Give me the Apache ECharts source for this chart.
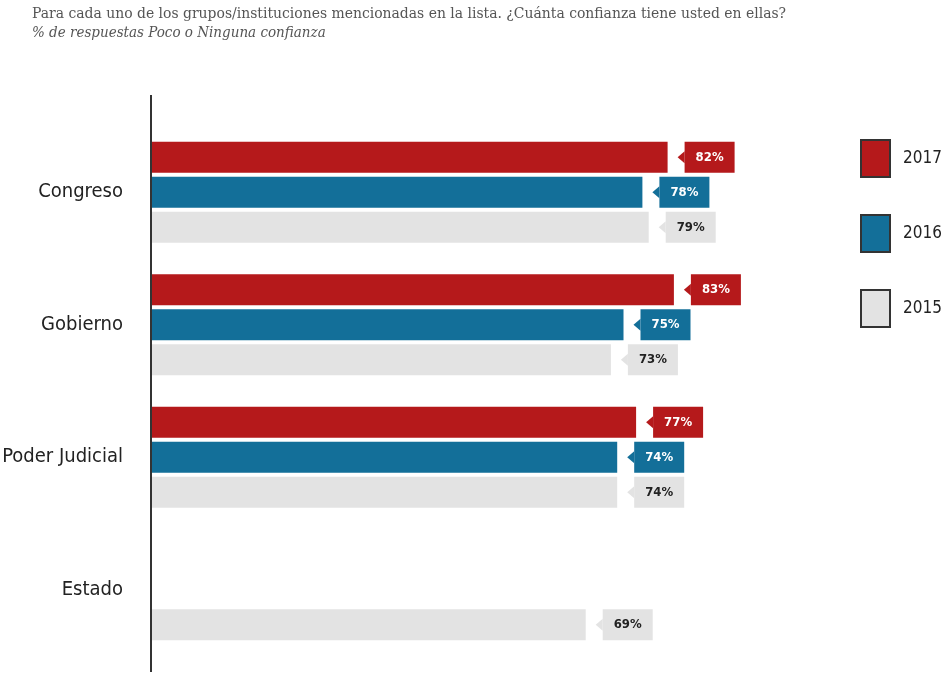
<!DOCTYPE html>
<html>
<head>
<meta charset="utf-8">
<script src="https://cdn.jsdelivr.net/npm/echarts@6/dist/echarts.min.js"></script>
<style>
html,body{margin:0;padding:0;background:#fff;}
#chart{width:942px;height:675px;}
</style>
</head>
<body>
<div id="chart"></div>
<script>
const categories = ['Congreso', 'Gobierno', 'Poder Judicial', 'Estado'];
const years = ['2017', '2016', '2015'];
const values2017 = [82, 83, 77, null];
const values2016 = [78, 75, 74, null];
const values2015 = [79, 73, 74, 69];
const titleText = 'Para cada uno de los grupos/instituciones mencionadas en la lista. ¿Cuánta confianza tiene usted en ellas?';
const subtitleText = '% de respuestas Poco o Ninguna confianza';

const colors = ['#b5191b', '#136f99', '#e3e3e3'];
const textColors = ['#ffffff', '#ffffff', '#222222'];
const seriesValues = [values2017, values2016, values2015];
const condensed = "'DejaVu Sans Condensed', 'Liberation Sans Narrow', sans-serif";
const serifFont = "'DejaVu Serif Condensed', 'Liberation Serif', serif";

const BAR_W = 31, STEP = 35;

const chart = echarts.init(document.getElementById('chart'));

const barSeries = years.map((y, i) => ({
  name: y,
  type: 'bar',
  data: seriesValues[i],
  barWidth: BAR_W,
  barGap: '13%',
  itemStyle: { color: colors[i] },
  silent: true,
  z: 2
}));

const labelSeries = years.map((y, i) => ({
  name: 'label' + y,
  type: 'custom',
  silent: true,
  z: 3,
  encode: { x: 0, y: 1 },
  data: seriesValues[i].map((v, c) => v == null ? null : [v, c, i]).filter(d => d),
  renderItem: function (params, api) {
    const v = api.value(0), c = api.value(1), s = api.value(2);
    const p = api.coord([v, c]);
    const yc = p[1] + (s - 1) * STEP;
    const x0 = p[0] + 17, w = 50, h = BAR_W;
    return {
      type: 'group',
      children: [
        { type: 'polygon', shape: { points: [[x0 - 7, yc], [x0, yc - 6], [x0, yc + 6]] }, style: { fill: colors[s] } },
        { type: 'rect', shape: { x: x0, y: yc - h / 2, width: w, height: h }, style: { fill: colors[s] } },
        { type: 'text', style: { text: v + '%', x: x0 + w / 2, y: yc, align: 'center', verticalAlign: 'middle', fill: textColors[s], font: "bold 13px " + condensed } }
      ]
    };
  }
}));

chart.setOption({
  animation: false,
  backgroundColor: '#ffffff',
  title: [
    { text: titleText, left: 32, top: 6, padding: 0, textStyle: { fontFamily: serifFont, fontSize: 15.5, fontWeight: 'normal', color: '#555' } },
    { text: subtitleText, left: 32, top: 26, padding: 0, textStyle: { fontFamily: serifFont, fontSize: 15, fontStyle: 'italic', fontWeight: 'normal', color: '#555' } }
  ],
  legend: {
    data: years,
    orient: 'vertical',
    left: 860,
    top: 139,
    padding: 0,
    itemWidth: 29,
    itemHeight: 37,
    itemGap: 36,
    icon: 'rect',
    itemStyle: { borderColor: '#333', borderWidth: 2 },
    textStyle: { fontFamily: condensed, fontSize: 17, color: '#222', padding: [0, 0, 0, 8] },
    selectedMode: false
  },
  grid: { left: 151, right: 161, top: 126, bottom: 19, containLabel: false, outerBoundsMode: 'none' },
  xAxis: { type: 'value', min: 0, max: 100, show: false },
  yAxis: {
    type: 'category',
    data: categories,
    inverse: true,
    axisLine: { show: false },
    axisTick: { show: false },
    axisLabel: { fontFamily: condensed, fontSize: 20, color: '#222', margin: 28 }
  },
  graphic: [
    { type: 'line', shape: { x1: 151, y1: 95, x2: 151, y2: 672 }, style: { stroke: '#333', lineWidth: 2 }, z: 10 }
  ],
  series: barSeries.concat(labelSeries)
});
</script>
</body>
</html>
